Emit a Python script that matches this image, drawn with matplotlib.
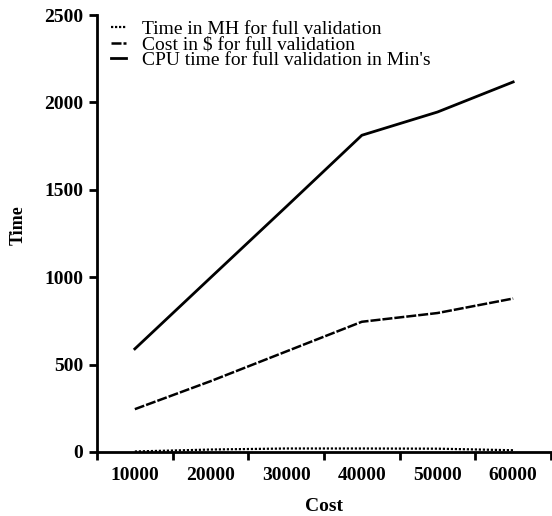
import matplotlib
matplotlib.use("Agg")
import matplotlib.pyplot as plt
from matplotlib.ticker import FixedLocator, NullFormatter, FixedFormatter

cost = [10000, 20000, 30000, 40000, 50000, 60000]
time_mh = [3, 14, 20, 20, 19, 10]
cost_dollar = [245, 405, 575, 745, 795, 878]
cpu_time = [590, 997, 1403, 1812, 1945, 2117]
x_tick_labels = ["10000", "20000", "30000", "40000", "50000", "60000"]
y_ticks = [0, 500, 1000, 1500, 2000, 2500]

plt.rcParams['font.family'] = ['Liberation Serif', 'DejaVu Serif']

fig = plt.figure(figsize=(5.52, 5.16), dpi=100)
ax = fig.add_axes([97/552, 1-452/516, (551-97)/552, (452-15)/516])

ax.plot(cost, time_mh, color='black', lw=1.6, linestyle=(0, (1.0, 0.8)),
        label='Time in MH for full validation')
ax.plot(cost, cost_dollar, color='black', lw=1.8, linestyle=(0, (4, 0.8)),
        label='Cost in $ for full validation')
ax.plot(cost, cpu_time, color='black', lw=2.0, linestyle='-',
        label="CPU time for full validation in Min's")

ax.set_xlim(5000, 65000)
ax.set_ylim(0, 2500)

ax.xaxis.set_major_locator(FixedLocator([5000, 15000, 25000, 35000, 45000, 55000, 65000]))
ax.xaxis.set_major_formatter(NullFormatter())
ax.xaxis.set_minor_locator(FixedLocator(cost))
ax.xaxis.set_minor_formatter(FixedFormatter(x_tick_labels))
ax.tick_params(axis='x', which='major', direction='out', length=6, width=2)
ax.tick_params(axis='x', which='minor', length=0, pad=11, labelsize=14)
ax.set_yticks(y_ticks)
ax.tick_params(axis='y', which='major', direction='out', length=6, width=2, pad=4, labelsize=14)
for lbl in ax.get_xticklabels(minor=True) + ax.get_yticklabels():
    lbl.set_fontweight('bold')

for s in ['top', 'right']:
    ax.spines[s].set_visible(False)
for s in ['left', 'bottom']:
    ax.spines[s].set_linewidth(2)

ax.set_xlabel('Cost', fontsize=14, fontweight='bold', labelpad=10)
ax.set_ylabel('Time', fontsize=13, fontweight='bold')
ax.yaxis.set_label_coords(-0.155, 0.52)

leg = ax.legend(loc='upper left', bbox_to_anchor=(0.014, 1.005), frameon=False,
                fontsize=14, handlelength=0.75, handletextpad=0.85,
                labelspacing=-0.12, borderaxespad=0)

fig.savefig('out.png', dpi=100)
